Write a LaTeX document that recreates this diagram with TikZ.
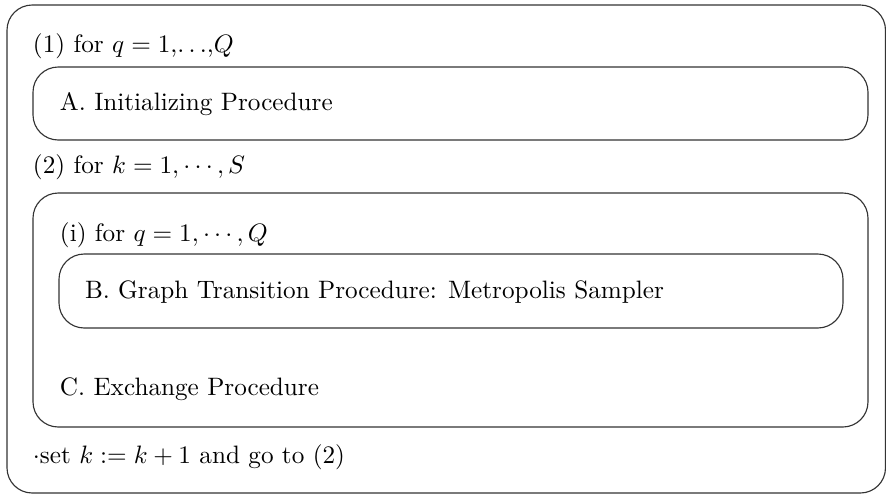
\documentclass[tikz,border=0pt]{standalone}
\begin{document}
\begin{tikzpicture}[x=0.397pt,y=-0.397pt,
  box/.style={draw=black!80,line width=0.45pt,rounded corners=10pt},
  lbl/.style={anchor=base west,inner sep=0pt,outer sep=0pt}]
\useasboundingbox (0,0) rectangle (886,494);
\draw[box] (7,5) rectangle (885.5,493);
\draw[box] (33,67) rectangle (868,140);
\draw[box] (33,193) rectangle (868,427);
\draw[box] (59,254) rectangle (843,328);
\node[lbl] (t1) at (33,52) {(1) for $q=1$,$\ldots$,$Q$};
\node[lbl] (tA) at (60,110) {A. Initializing Procedure};
\node[lbl] (t2) at (33,173) {(2) for $k=1,\cdots,S$};
\node[lbl] (ti) at (60,241.5) {(i) for $q=1,\cdots,Q$};
\node[lbl] (tB) at (85,298) {B. Graph Transition Procedure: Metropolis Sampler};
\node[lbl] (tC) at (60,395) {C. Exchange Procedure};
\node[lbl] (ts) at (33,463) {$\cdot$set $k:=k+1$ and go to (2)};
\end{tikzpicture}
\end{document}
